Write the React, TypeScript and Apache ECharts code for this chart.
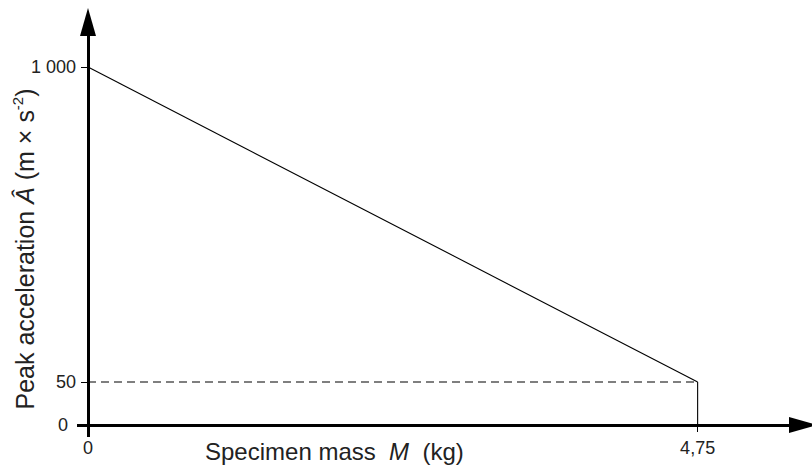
import React, { useEffect, useRef } from 'react';
import * as echarts from 'echarts';

// ---- data ----
const massKg = [0, 4.75];
const peakAccel = [1000, 50];
const plateauAccel = 50;
const upperYTicks = [50, 1000];
const lowerYTicks = [0];
const xTickLabels = [0, 4.75];
const xAxisMax = 5.571;
const upperYMax = 1135.7;

const fmt = (v: number) => (v === 1000 ? '1 000' : String(v).replace('.', ','));

const black = '#000';
const labelColor = '#222';
const font = '"Liberation Sans", Arial, Helvetica, sans-serif';

export default function App() {
  const ref = useRef<HTMLDivElement>(null);
  useEffect(() => {
    if (!ref.current) return;
    const chart = echarts.init(ref.current, undefined, { renderer: 'svg' });
    const tickLabel = { fontSize: 18, color: labelColor, fontFamily: font };
    chart.setOption({
      animation: false,
      grid: [
        { left: 88, right: 9, top: 22, height: 360 },
        { left: 88, right: 9, top: 382, height: 43 },
      ],
      xAxis: [
        {
          gridIndex: 0, type: 'value', min: 0, max: xAxisMax, position: 'bottom', offset: 43,
          axisLine: { show: false, onZero: false },
          axisTick: { show: true, customValues: [massKg[1]], length: 7, lineStyle: { color: black, width: 1 } },
          axisLabel: { show: false },
          splitLine: { show: false },
        },
        {
          gridIndex: 1, type: 'value', min: 0, max: xAxisMax, position: 'bottom',
          axisLine: { show: true, onZero: false, symbol: ['none', 'triangle'], symbolSize: [16, 28], lineStyle: { color: black, width: 3 } },
          axisTick: { show: true, customValues: [0], length: 12, lineStyle: { color: black, width: 3 } },
          axisLabel: { customValues: xTickLabels, formatter: fmt, margin: 14, ...tickLabel },
          splitLine: { show: false },
        },
      ],
      yAxis: [
        {
          gridIndex: 0, type: 'value', min: 50, max: upperYMax,
          axisLine: { show: true, onZero: false, symbol: ['none', 'triangle'], symbolSize: [16, 28], lineStyle: { color: black, width: 3 } },
          axisTick: { show: true, customValues: upperYTicks, length: 7, lineStyle: { color: black, width: 1 } },
          axisLabel: { customValues: upperYTicks, formatter: fmt, margin: 12, ...tickLabel },
          splitLine: { show: false },
        },
        {
          gridIndex: 1, type: 'value', min: 0, max: 50,
          axisLine: { show: true, onZero: false, lineStyle: { color: black, width: 3 } },
          axisTick: { show: true, customValues: lowerYTicks, length: 11, lineStyle: { color: black, width: 3 } },
          axisLabel: { customValues: lowerYTicks, formatter: fmt, margin: 20, ...tickLabel },
          splitLine: { show: false },
        },
      ],
      series: [
        {
          type: 'line', xAxisIndex: 0, yAxisIndex: 0,
          data: massKg.map((x, i) => [x, peakAccel[i]]),
          showSymbol: false, clip: false, silent: true,
          lineStyle: { color: black, width: 1.1 },
        },
        {
          type: 'line', xAxisIndex: 0, yAxisIndex: 0,
          data: [[massKg[0], plateauAccel], [massKg[1], plateauAccel]],
          showSymbol: false, clip: false, silent: true,
          lineStyle: { color: black, width: 1.2, type: [8, 5] },
        },
        {
          type: 'line', xAxisIndex: 1, yAxisIndex: 1,
          data: [[massKg[1], 0], [massKg[1], plateauAccel]],
          showSymbol: false, clip: false, silent: true,
          lineStyle: { color: black, width: 1.1 },
        },
      ],
      graphic: [
        {
          type: 'text', x: 205, y: 451,
          style: {
            text: 'Specimen mass  {i|M}  (kg)',
            fontSize: 24, fontFamily: font, fill: labelColor,
            align: 'left', verticalAlign: 'middle',
            rich: { i: { fontStyle: 'italic', fontSize: 24, fontFamily: font, fill: labelColor } },
          },
        },
        {
          type: 'text', x: 25, y: 249, rotation: Math.PI / 2,
          style: {
            text: 'Peak acceleration {i|Â} (m × s{sup|-2})',
            fontSize: 25, fontFamily: font, fill: labelColor, lineHeight: 30,
            align: 'center', verticalAlign: 'middle',
            rich: {
              i: { fontStyle: 'italic', fontSize: 25, fontFamily: font, fill: labelColor, lineHeight: 30 },
              sup: { fontSize: 15, fontFamily: font, fill: labelColor, verticalAlign: 'top', lineHeight: 16 },
            },
          },
        },
      ],
    });
    return () => chart.dispose();
  }, []);
  return <div ref={ref} style={{ position: 'absolute', left: 0, top: 0, width: 812, height: 470 }} />;
}
